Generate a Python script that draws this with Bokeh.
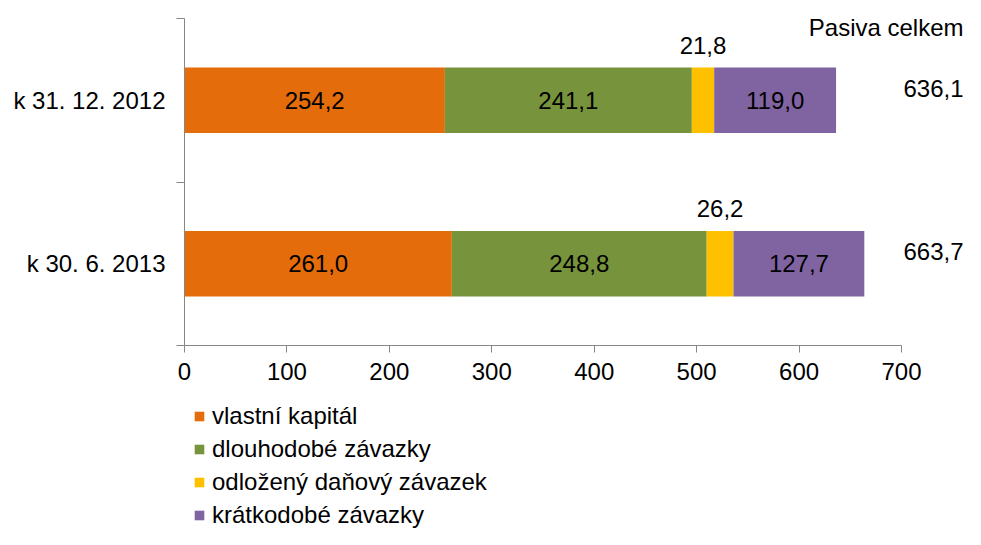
from bokeh.plotting import figure
from bokeh.layouts import column
from bokeh.models import (ColumnDataSource, Range1d, LinearAxis, FixedTicker,
                          Legend, LegendItem)
from bokeh.core.properties import value
from bokeh.embed import file_html
from bokeh.resources import INLINE

# ---- data ----
categories = ["k 31. 12. 2012", "k 30. 6. 2013"]
series_names = ["vlastní kapitál", "dlouhodobé závazky",
                "odložený daňový závazek", "krátkodobé závazky"]
vlastni_kapital = [254.2, 261.0]
dlouhodobe_zavazky = [241.1, 248.8]
odlozeny_danovy_zavazek = [21.8, 26.2]
kratkodobe_zavazky = [119.0, 127.7]
x_ticks = [0, 100, 200, 300, 400, 500, 600, 700]
total_title = "Pasiva celkem"

# ---- style ----
colors = ["#E46C0A", "#77933C", "#FFC000", "#8064A2"]
FONT = "Liberation Sans"
FS = "24px"
AXIS_COLOR = "#868686"
W = 965
H1 = 392
H2 = 137
FRAME_LEFT = 184
FRAME_TOP = 18
FRAME_BOTTOM = 345
AXIS_END_PX = 901  # pixel where the last x tick sits


def fmt(v):
    return f"{v:.1f}".replace(".", ",")


series = [vlastni_kapital, dlouhodobe_zavazky, odlozeny_danovy_zavazek, kratkodobe_zavazky]
keys = ["s0", "s1", "s2", "s3"]
n = len(categories)
ypos = [n - i - 0.5 for i in range(n)]

data = dict(y=ypos)
for k, s in zip(keys, series):
    data[k] = s
src = ColumnDataSource(data)

# frame extends to the right edge so that the totals column fits inside it
px_per_unit = (AXIS_END_PX - FRAME_LEFT) / (x_ticks[-1] - x_ticks[0])
x_end = x_ticks[-1] + (W - AXIS_END_PX) / px_per_unit

p = figure(width=W, height=H1, output_backend="svg", toolbar_location=None,
           x_range=Range1d(x_ticks[0], x_end), y_range=Range1d(0, n),
           x_axis_location=None, y_axis_location=None,
           min_border_left=FRAME_LEFT, min_border_right=0,
           min_border_top=FRAME_TOP, min_border_bottom=H1 - FRAME_BOTTOM)
p.outline_line_color = None
p.xgrid.visible = False
p.ygrid.visible = False
p.background_fill_color = "white"
p.border_fill_color = "white"

renderers = p.hbar_stack(keys, y="y", height=0.4, fill_color=colors,
                         line_color=colors, line_alpha=0.0, source=src)

# segment labels
in_x, in_y, in_t = [], [], []
up_x, up_y, up_t = [], [], []
for j in range(n):
    start = 0.0
    for i, s in enumerate(series):
        v = s[j]
        cx = start + v / 2
        if i == 2:
            up_x.append(cx); up_y.append(ypos[j]); up_t.append(fmt(v))
        else:
            in_x.append(cx); in_y.append(ypos[j]); in_t.append(fmt(v))
        start += v

txt = dict(text_font=value(FONT), text_font_size=FS, text_color="black",
           text_baseline="middle")
p.text(x="x", y="y", text="t", source=ColumnDataSource(dict(x=in_x, y=in_y, t=in_t)),
       text_align="center", **txt)
p.text(x="x", y="y", text="t", source=ColumnDataSource(dict(x=up_x, y=up_y, t=up_t)),
       text_align="center", y_offset=-55, **txt)

# totals column
totals = [sum(s[j] for s in series) for j in range(n)]
p.text(x=x_ticks[-1], y="y", text="t",
       source=ColumnDataSource(dict(y=ypos, t=[fmt(t) for t in totals])),
       x_offset=W - 2 - AXIS_END_PX, y_offset=-12, text_align="right", **txt)
p.text(x=[x_ticks[-1]], y=[n], text=[total_title],
       x_offset=W - 2 - AXIS_END_PX, y_offset=9, text_align="right", **txt)

# axes
xaxis = LinearAxis(ticker=FixedTicker(ticks=x_ticks), bounds=(x_ticks[0], x_ticks[-1]))
xaxis.axis_line_color = AXIS_COLOR
xaxis.major_tick_line_color = AXIS_COLOR
xaxis.major_tick_out = 7
xaxis.major_tick_in = 0
xaxis.minor_tick_line_color = None
xaxis.major_label_standoff = 10
xaxis.major_label_text_font = FONT
xaxis.major_label_text_font_size = FS
xaxis.major_label_text_color = "black"
p.add_layout(xaxis, "below")

yaxis = LinearAxis(ticker=FixedTicker(ticks=ypos, minor_ticks=list(range(n + 1))),
                   major_label_overrides={y: c for y, c in zip(ypos, categories)})
yaxis.axis_line_color = AXIS_COLOR
yaxis.major_tick_line_color = None
yaxis.major_tick_out = 0
yaxis.major_tick_in = 0
yaxis.minor_tick_line_color = AXIS_COLOR
yaxis.minor_tick_out = 8
yaxis.minor_tick_in = 0
yaxis.major_label_standoff = 11
yaxis.major_label_text_font = FONT
yaxis.major_label_text_font_size = FS
yaxis.major_label_text_color = "black"
p.add_layout(yaxis, "left")

# ---- legend (separate strip below the chart) ----
p2 = figure(width=W, height=H2, output_backend="svg", toolbar_location=None,
            x_range=Range1d(0, 1), y_range=Range1d(0, 1),
            x_axis_location=None, y_axis_location=None,
            min_border_left=0, min_border_right=0, min_border_top=0, min_border_bottom=0)
p2.outline_line_color = None
p2.xgrid.visible = False
p2.ygrid.visible = False
# same bars, hidden; they only provide the legend swatches
leg_renderers = p2.hbar_stack(keys, y="y", height=0.4, fill_color=colors,
                              line_color=colors, line_alpha=0.0, source=src)
for r in leg_renderers:
    r.visible = False

legend = Legend(items=[LegendItem(label=nm, renderers=[r])
                       for nm, r in zip(series_names, leg_renderers)],
                location=(9, 0), orientation="vertical",
                glyph_width=12, glyph_height=12, label_standoff=7,
                label_text_font=FONT, label_text_font_size=FS, label_text_color="black",
                label_height=28, spacing=5, padding=0, margin=0,
                border_line_color=None, background_fill_alpha=0,
                inactive_fill_alpha=0.0)
p2.add_layout(legend, "center")

layout = column(p, p2, spacing=0)
open("out.html", "w", encoding="utf-8").write(file_html(layout, INLINE))
